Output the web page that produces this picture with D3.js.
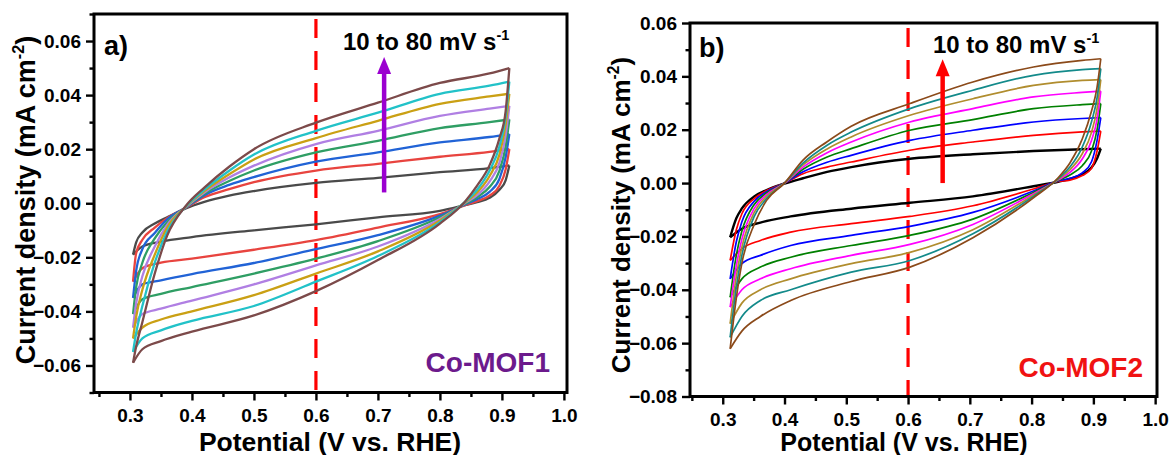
<!DOCTYPE html>
<html>
<head>
<meta charset="utf-8">
<script src="https://cdnjs.cloudflare.com/ajax/libs/d3/7.8.5/d3.min.js"></script>
<style>
  html, body { margin: 0; padding: 0; background: #fff; }
  svg { display: block; font-family: "Liberation Sans", Arial, Helvetica, sans-serif; font-weight: bold; }
</style>
</head>
<body>
<svg id="chart" width="1173" height="455"></svg>
<script>
const SCAN_RATES = [10, 20, 30, 40, 50, 60, 70, 80];
const X_TICKS = [0.3, 0.4, 0.5, 0.6, 0.7, 0.8, 0.9, 1.0];
const X_MINOR = [0.25, 0.35, 0.45, 0.55, 0.65, 0.75, 0.85, 0.95];
const MOF1_Y_TICKS = [-0.06, -0.04, -0.02, 0.0, 0.02, 0.04, 0.06];
const MOF1_Y_MINOR = [-0.07, -0.05, -0.03, -0.01, 0.01, 0.03, 0.05, 0.07];
const MOF2_Y_TICKS = [-0.08, -0.06, -0.04, -0.02, 0.0, 0.02, 0.04, 0.06];
const MOF2_Y_MINOR = [-0.07, -0.05, -0.03, -0.01, 0.01, 0.03, 0.05];

const MOF1_COLORS = ["#4a4a4a", "#e8443f", "#2163d6", "#2f9e64", "#b07fe3", "#caa014", "#22c2c8", "#7c4a4a"];
const MOF2_COLORS = ["#000000", "#ff0000", "#0000ff", "#008000", "#ff00ff", "#b08d2e", "#138a8a", "#8b4a1a"];

// Co-MOF1: anodic (upper) branch, left to right
const MOF1_UP_E = [0.305, 0.31, 0.32, 0.34, 0.36, 0.39, 0.42, 0.46, 0.5, 0.6, 0.7, 0.8, 0.88, 0.912];
const MOF1_UP = [
  [-0.019, -0.0145, -0.0108, -0.0075, -0.0052, -0.0019, 0.0005, 0.0028, 0.0045, 0.0075, 0.0094, 0.0115, 0.013, 0.014],
  [-0.029, -0.0185, -0.0135, -0.009, -0.0055, -0.0017, 0.0022, 0.0052, 0.0078, 0.0121, 0.0146, 0.0172, 0.019, 0.020],
  [-0.035, -0.025, -0.017, -0.011, -0.006, -0.0016, 0.003, 0.0068, 0.0097, 0.0154, 0.0188, 0.0225, 0.0245, 0.0256],
  [-0.041, -0.031, -0.022, -0.013, -0.007, -0.0015, 0.0035, 0.0082, 0.0121, 0.0188, 0.0231, 0.0278, 0.030, 0.031],
  [-0.046, -0.037, -0.027, -0.016, -0.008, -0.0014, 0.004, 0.0095, 0.0139, 0.0219, 0.0268, 0.0323, 0.035, 0.036],
  [-0.050, -0.042, -0.032, -0.019, -0.009, -0.0013, 0.0045, 0.0107, 0.0162, 0.0241, 0.0305, 0.0368, 0.0395, 0.0405],
  [-0.055, -0.048, -0.038, -0.022, -0.0105, -0.0012, 0.005, 0.012, 0.018, 0.0268, 0.0335, 0.0405, 0.0435, 0.045],
  [-0.059, -0.053, -0.044, -0.026, -0.012, -0.001, 0.0058, 0.0135, 0.020, 0.0298, 0.0372, 0.0445, 0.048, 0.050]
];
// Co-MOF1: cathodic (lower) branch, right to left
const MOF1_DOWN_E = [0.912, 0.906, 0.896, 0.88, 0.86, 0.84, 0.8, 0.7, 0.6, 0.5, 0.4, 0.35, 0.32, 0.305];
const MOF1_DOWN = [
  [0.014, 0.0085, 0.005, 0.002, 0.0004, -0.0007, -0.0028, -0.0052, -0.0078, -0.010, -0.0125, -0.0142, -0.016, -0.019],
  [0.020, 0.0125, 0.0065, 0.0028, 0.0008, -0.0008, -0.004, -0.009, -0.0136, -0.0172, -0.0205, -0.022, -0.024, -0.029],
  [0.0256, 0.017, 0.009, 0.0042, 0.0015, -0.0005, -0.0046, -0.0118, -0.017, -0.0221, -0.0262, -0.0285, -0.030, -0.035],
  [0.031, 0.021, 0.012, 0.006, 0.0022, -0.0003, -0.0052, -0.014, -0.0205, -0.026, -0.031, -0.0335, -0.0355, -0.041],
  [0.036, 0.025, 0.015, 0.008, 0.003, 0.0, -0.0058, -0.016, -0.023, -0.030, -0.036, -0.039, -0.041, -0.046],
  [0.0405, 0.029, 0.018, 0.010, 0.004, 0.0002, -0.0064, -0.0178, -0.026, -0.034, -0.040, -0.043, -0.046, -0.050],
  [0.045, 0.032, 0.021, 0.012, 0.005, 0.0004, -0.007, -0.0195, -0.029, -0.038, -0.0435, -0.047, -0.050, -0.055],
  [0.050, 0.034, 0.024, 0.014, 0.0065, 0.0005, -0.0075, -0.021, -0.0325, -0.0415, -0.0475, -0.051, -0.054, -0.059]
];

// Co-MOF2
const MOF2_UP_E = [0.312, 0.322, 0.331, 0.351, 0.371, 0.400, 0.430, 0.469, 0.508, 0.603, 0.705, 0.803, 0.882, 0.912];
const MOF2_UP = [
  [-0.0203, -0.0132, -0.0095, -0.005, -0.0026, -0.0002, 0.0018, 0.0042, 0.006, 0.0091, 0.0108, 0.012, 0.0127, 0.0129],
  [-0.029, -0.0175, -0.0115, -0.0058, -0.0028, 0.0, 0.0035, 0.006, 0.0079, 0.0123, 0.0154, 0.0179, 0.0192, 0.0195],
  [-0.0359, -0.022, -0.0145, -0.0068, -0.0032, 0.0, 0.0042, 0.0078, 0.0104, 0.016, 0.0198, 0.0229, 0.0242, 0.0245],
  [-0.0428, -0.027, -0.018, -0.008, -0.0037, 0.0, 0.0052, 0.0098, 0.0129, 0.0198, 0.0238, 0.0279, 0.0294, 0.0298],
  [-0.0465, -0.031, -0.021, -0.0095, -0.0043, 0.0, 0.006, 0.0114, 0.0154, 0.0229, 0.0279, 0.0323, 0.034, 0.0345],
  [-0.0527, -0.035, -0.024, -0.011, -0.005, 0.0, 0.0068, 0.0128, 0.0173, 0.0254, 0.0316, 0.0366, 0.0385, 0.0388],
  [-0.0578, -0.039, -0.027, -0.0125, -0.0058, 0.0, 0.0075, 0.0142, 0.0191, 0.0279, 0.0348, 0.0404, 0.0425, 0.0429],
  [-0.0621, -0.043, -0.030, -0.0155, -0.0065, 0.0, 0.0086, 0.0155, 0.0213, 0.0298, 0.0379, 0.0435, 0.046, 0.0466]
];
const MOF2_DOWN_E = [0.912, 0.906, 0.897, 0.882, 0.862, 0.843, 0.803, 0.705, 0.603, 0.508, 0.41, 0.361, 0.331, 0.312];
const MOF2_DOWN = [
  [0.0129, 0.0092, 0.0058, 0.0033, 0.0016, 0.0005, -0.0012, -0.005, -0.0074, -0.0096, -0.0125, -0.0148, -0.0171, -0.0203],
  [0.0195, 0.012, 0.0055, 0.0028, 0.0011, 0.0006, -0.0022, -0.0085, -0.0125, -0.0152, -0.0184, -0.0215, -0.0246, -0.029],
  [0.0245, 0.016, 0.008, 0.0038, 0.0018, 0.0008, -0.003, -0.011, -0.0162, -0.0196, -0.0234, -0.0271, -0.0302, -0.0359],
  [0.0298, 0.020, 0.012, 0.0065, 0.003, 0.001, -0.0035, -0.0135, -0.0196, -0.0234, -0.0278, -0.0315, -0.0359, -0.0428],
  [0.0345, 0.024, 0.016, 0.009, 0.004, 0.0012, -0.004, -0.0155, -0.023, -0.0271, -0.0321, -0.0359, -0.040, -0.0465],
  [0.0388, 0.028, 0.019, 0.011, 0.005, 0.0014, -0.0045, -0.0175, -0.026, -0.0302, -0.0359, -0.040, -0.045, -0.0527],
  [0.0429, 0.032, 0.023, 0.0135, 0.006, 0.0017, -0.005, -0.019, -0.029, -0.0334, -0.040, -0.044, -0.050, -0.0578],
  [0.0466, 0.036, 0.027, 0.0165, 0.0075, 0.002, -0.0055, -0.0205, -0.0315, -0.0369, -0.044, -0.050, -0.0555, -0.0621]
];

const svg = d3.select("#chart");

const panels = [
  {
    id: "p1", left: 94, right: 567, top: 14, bottom: 392.5,
    xDomain: [0.242, 1.005], yDomain: [-0.07, 0.07],
    yTicks: MOF1_Y_TICKS, yMinor: MOF1_Y_MINOR,
    upE: MOF1_UP_E, up: MOF1_UP, downE: MOF1_DOWN_E, down: MOF1_DOWN,
    colors: MOF1_COLORS, lineWidth: 2.3,
    tag: "a)", tagX: 104, tagY: 55,
    name: "Co-MOF1", nameColor: "#6c1a8c", nameX: 550, nameY: 372,
    arrowColor: "#9b00d0", arrowX: 0.71, arrowFrom: 0.004, arrowTo: 0.0541,
    rateX: 343, rateY: 50,
    yTitleX: 35, yTitleY: 200, yTitleSize: 27,
    xTitleX: 330, xTitleY: 450.5, xTitleSize: 26.5
  },
  {
    id: "p2", left: 690, right: 1157, top: 23, bottom: 396.5,
    xDomain: [0.247, 1.003], yDomain: [-0.08, 0.06],
    yTicks: MOF2_Y_TICKS, yMinor: MOF2_Y_MINOR,
    upE: MOF2_UP_E, up: MOF2_UP, downE: MOF2_DOWN_E, down: MOF2_DOWN,
    colors: MOF2_COLORS, lineWidth: 1.7,
    tag: "b)", tagX: 699, tagY: 57,
    name: "Co-MOF2", nameColor: "#f01212", nameX: 1143, nameY: 377,
    arrowColor: "#ff0000", arrowX: 0.656, arrowFrom: 0.0, arrowTo: 0.0464,
    rateX: 933, rateY: 53,
    yTitleX: 630, yTitleY: 215, yTitleSize: 26,
    xTitleX: 904, xTitleY: 451, xTitleSize: 25
  }
];

panels.forEach(drawPanel);

function drawPanel(p) {
  const x = d3.scaleLinear().domain(p.xDomain).range([p.left, p.right]);
  const y = d3.scaleLinear().domain(p.yDomain).range([p.bottom, p.top]);
  const g = svg.append("g");

  g.append("clipPath").attr("id", "clip-" + p.id)
    .append("rect")
    .attr("x", p.left).attr("y", p.top)
    .attr("width", p.right - p.left).attr("height", p.bottom - p.top);

  const plot = g.append("g").attr("clip-path", `url(#clip-${p.id})`);

  // red dashed reference line at 0.6 V
  plot.append("line")
    .attr("x1", x(0.6)).attr("x2", x(0.6))
    .attr("y1", p.top).attr("y2", p.bottom)
    .attr("stroke", "#ff0000")
    .attr("stroke-width", 3.2)
    .attr("stroke-dasharray", "19,13")
    .attr("stroke-dashoffset", -5);

  const line = d3.line()
    .x(d => x(d[0]))
    .y(d => y(d[1]))
    .curve(d3.curveMonotoneX);

  SCAN_RATES.forEach((rate, i) => {
    const upper = p.upE.map((e, k) => [e, p.up[i][k]]);
    const lower = p.downE.map((e, k) => [e, p.down[i][k]]);
    [upper, lower].forEach(branch => {
      plot.append("path")
        .attr("d", line(branch))
        .attr("fill", "none")
        .attr("stroke", p.colors[i])
        .attr("stroke-width", (p.id === "p2" && i === 0) ? 2.4 : p.lineWidth)
        .attr("stroke-linejoin", "round");
    });
  });

  // scan-rate arrow
  const ax = x(p.arrowX);
  const yTip = y(p.arrowTo);
  g.append("line")
    .attr("x1", ax).attr("x2", ax)
    .attr("y1", y(p.arrowFrom)).attr("y2", yTip + 12)
    .attr("stroke", p.arrowColor)
    .attr("stroke-width", 4.5);
  g.append("path")
    .attr("d", `M${ax},${yTip} L${ax - 7},${yTip + 17} L${ax + 7},${yTip + 17} Z`)
    .attr("fill", p.arrowColor);

  const rate = g.append("text")
    .attr("x", p.rateX).attr("y", p.rateY)
    .attr("font-size", 24)
    .attr("fill", "#000");
  rate.append("tspan").text("10 to 80 mV s");
  rate.append("tspan").attr("font-size", 14.5).attr("dy", -10).text("-1");

  g.append("text")
    .attr("x", p.tagX).attr("y", p.tagY)
    .attr("font-size", 27)
    .text(p.tag);

  g.append("text")
    .attr("x", p.nameX).attr("y", p.nameY)
    .attr("text-anchor", "end")
    .attr("font-size", 28)
    .attr("fill", p.nameColor)
    .text(p.name);

  // axes
  const xAxis = g.append("g")
    .attr("transform", `translate(0,${p.bottom})`)
    .call(d3.axisBottom(x).tickValues(X_TICKS).tickFormat(d3.format(".1f")).tickSize(8).tickPadding(8));
  const xMinor = g.append("g")
    .attr("transform", `translate(0,${p.bottom})`)
    .call(d3.axisBottom(x).tickValues(X_MINOR).tickFormat("").tickSize(4.5));
  const yAxis = g.append("g")
    .attr("transform", `translate(${p.left},0)`)
    .call(d3.axisLeft(y).tickValues(p.yTicks).tickFormat(d3.format(".2f")).tickSize(8).tickPadding(5));
  const yMinor = g.append("g")
    .attr("transform", `translate(${p.left},0)`)
    .call(d3.axisLeft(y).tickValues(p.yMinor).tickFormat("").tickSize(4.5));

  [xAxis, xMinor, yAxis, yMinor].forEach(a => {
    a.select(".domain").remove();
    a.selectAll(".tick line").attr("stroke", "#000").attr("stroke-width", 2.4);
    a.selectAll(".tick text")
      .attr("fill", "#000")
      .attr("font-size", 19)
      .attr("font-family", "Liberation Sans, Arial, sans-serif")
      .attr("font-weight", "bold");
  });

  // frame
  g.append("rect")
    .attr("x", p.left).attr("y", p.top)
    .attr("width", p.right - p.left).attr("height", p.bottom - p.top)
    .attr("fill", "none")
    .attr("stroke", "#000")
    .attr("stroke-width", 3);

  // axis titles
  g.append("text")
    .attr("x", p.xTitleX).attr("y", p.xTitleY)
    .attr("text-anchor", "middle")
    .attr("font-size", p.xTitleSize)
    .text("Potential (V vs. RHE)");

  const yt = g.append("text")
    .attr("transform", `translate(${p.yTitleX},${p.yTitleY}) rotate(-90)`)
    .attr("text-anchor", "middle")
    .attr("font-size", p.yTitleSize);
  yt.append("tspan").text("Current density (mA cm");
  yt.append("tspan").attr("font-size", p.yTitleSize * 0.6).attr("dy", -11).text("-2");
  yt.append("tspan").attr("dy", 11).text(")");
}
</script>
</body>
</html>
